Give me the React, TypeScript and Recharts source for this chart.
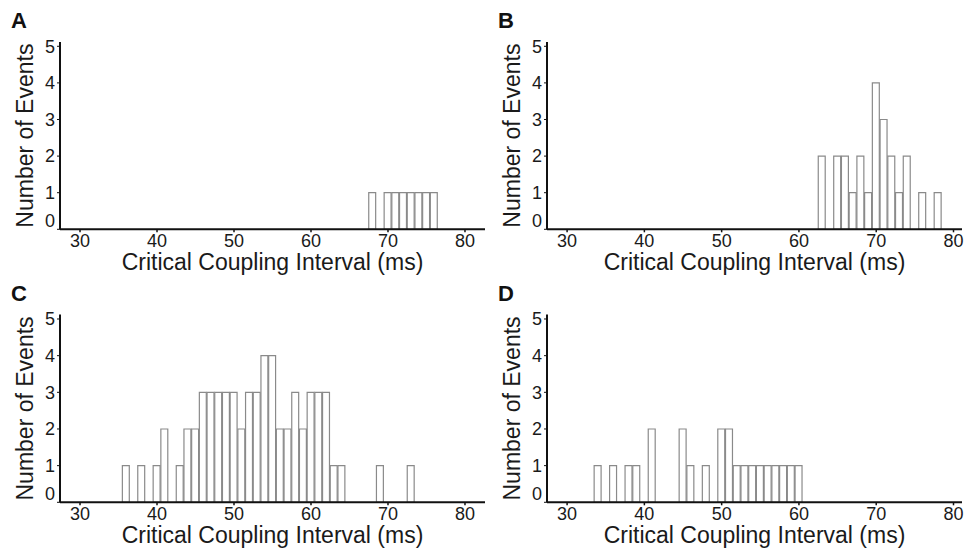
import { BarChart, Bar, XAxis, YAxis } from 'recharts';

// Histogram bins (ms) and event counts
const binsA = [68, 70, 71, 72, 73, 74, 75, 76];
const countsA = [1, 1, 1, 1, 1, 1, 1, 1];

const binsB = [63, 65, 66, 67, 68, 69, 70, 71, 72, 73, 74, 76, 78];
const countsB = [2, 2, 2, 1, 2, 1, 4, 3, 2, 1, 2, 1, 1];

const binsC = [36, 38, 40, 41, 43, 44, 45, 46, 47, 48, 49, 50, 51, 52, 53, 54, 55, 56, 57, 58, 59, 60, 61, 62, 63, 64, 69, 73];
const countsC = [1, 1, 1, 2, 1, 2, 2, 3, 3, 3, 3, 3, 2, 3, 3, 4, 4, 2, 2, 3, 2, 3, 3, 3, 1, 1, 1, 1];

const binsD = [34, 36, 38, 39, 41, 45, 46, 48, 50, 51, 52, 53, 54, 55, 56, 57, 58, 59, 60];
const countsD = [1, 1, 1, 1, 2, 2, 1, 1, 2, 2, 1, 1, 1, 1, 1, 1, 1, 1, 1];

const xTicks = [30, 40, 50, 60, 70, 80];
const yTicks = [0, 1, 2, 3, 4, 5];

const X_TITLE = 'Critical Coupling Interval (ms)';
const Y_TITLE = 'Number of Events';

const Y_AXIS_W = 40;
const X_AXIS_H = 45;

interface PanelProps {
  letter: string;
  bins: number[];
  counts: number[];
  x0: number;
  y0: number;
  w: number;
  h: number;
  plotLeft: number;
  plotRight: number;
  plotTop: number;
  plotBottom: number;
  xMax: number;
}

const renderYTick = (props: any) => {
  const { x, y, payload } = props;
  // the zero label sits a little above the baseline in the original figure
  const shift = payload.value === 0 ? -9 : 0;
  return (
    <text x={x} y={y + shift} dy="0.355em" textAnchor="end" fontSize={18} fill="#1a1a1a">
      {payload.value}
    </text>
  );
};

function Panel({ letter, bins, counts, x0, y0, w, h, plotLeft, plotRight, plotTop, plotBottom, xMax }: PanelProps) {
  const xMin = 27.4;
  const data = bins.map((ms, i) => ({ ms, count: counts[i] }));
  const pxPerMs = (plotRight - plotLeft) / (xMax - xMin);

  return (
    <div style={{ position: 'absolute', left: x0, top: y0, width: w, height: h }}>
      <div style={{ position: 'absolute', left: 11, top: 8, fontSize: 22, fontWeight: 'bold', color: '#111' }}>
        {letter}
      </div>
      <BarChart
        width={w}
        height={h}
        data={data}
        barCategoryGap={0}
        barGap={0}
        margin={{
          top: plotTop - y0,
          right: x0 + w - plotRight,
          left: plotLeft - x0 - Y_AXIS_W,
          bottom: y0 + h - plotBottom - X_AXIS_H,
        }}
      >
        <XAxis
          type="number"
          dataKey="ms"
          domain={[xMin, xMax]}
          ticks={xTicks}
          allowDataOverflow
          height={X_AXIS_H}
          tick={{ fill: '#1a1a1a', fontSize: 18 }}
          tickSize={3}
          tickMargin={2}
          axisLine={{ stroke: '#111', strokeWidth: 2 }}
          tickLine={{ stroke: '#111', strokeWidth: 1.5 }}
          label={{ value: X_TITLE, position: 'insideBottom', offset: 4, fontSize: 23, fill: '#1a1a1a' }}
        />
        <YAxis
          type="number"
          domain={[0, 5.12]}
          ticks={yTicks}
          allowDataOverflow
          width={Y_AXIS_W}
          tick={renderYTick}
          tickSize={3}
          tickMargin={2}
          axisLine={{ stroke: '#111', strokeWidth: 2 }}
          tickLine={{ stroke: '#111', strokeWidth: 1 }}
          label={{
            value: Y_TITLE,
            angle: -90,
            position: 'insideLeft',
            offset: 5,
            fontSize: 23,
            fill: '#1a1a1a',
            style: { textAnchor: 'middle' },
          }}
        />
        <Bar
          dataKey="count"
          fill="#ffffff"
          stroke="#8a8a8a"
          strokeWidth={1.2}
          barSize={pxPerMs}
          isAnimationActive={false}
        />
      </BarChart>
    </div>
  );
}

export default function App() {
  return (
    <div
      style={{
        position: 'absolute',
        left: 0,
        top: 0,
        width: 967,
        height: 549,
        background: '#fff',
        fontFamily: '"Liberation Sans", Arial, sans-serif',
      }}
    >
      <Panel letter="A" bins={binsA} counts={countsA} x0={0} y0={0} w={490} h={275}
        plotLeft={60} plotRight={485} plotTop={41.9} plotBottom={229.3} xMax={82.6} />
      <Panel letter="B" bins={binsB} counts={countsB} x0={487} y0={0} w={480} h={275}
        plotLeft={547} plotRight={962} plotTop={41.9} plotBottom={229.3} xMax={81.1} />
      <Panel letter="C" bins={binsC} counts={countsC} x0={0} y0={273.4} w={490} h={275}
        plotLeft={60} plotRight={485} plotTop={315} plotBottom={502.7} xMax={82.6} />
      <Panel letter="D" bins={binsD} counts={countsD} x0={487} y0={273.4} w={480} h={275}
        plotLeft={547} plotRight={962} plotTop={315} plotBottom={502.7} xMax={81.1} />
    </div>
  );
}
